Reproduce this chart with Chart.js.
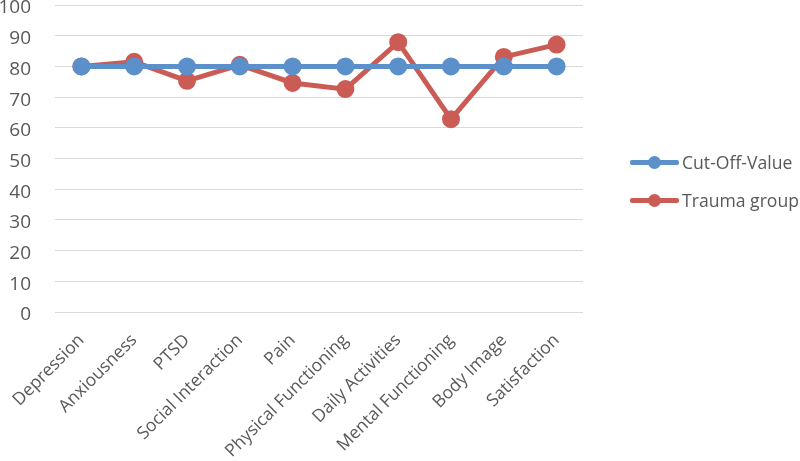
<!DOCTYPE html>
<html>
<head>
<meta charset="utf-8">
<script src="https://cdn.jsdelivr.net/npm/chart.js@4"></script>
<style>
  html, body { margin: 0; padding: 0; background: #fff; }
  #wrap { position: relative; width: 800px; height: 461px; overflow: hidden; }
  #legend { position: absolute; left: 630px; top: 143px; font-family: "Open Sans", sans-serif; font-size: 17.6px; color: #595959; white-space: nowrap; }
  .item { display: flex; align-items: center; height: 38px; }
  .sw { position: relative; width: 49px; height: 5px; margin-right: 3px; border-radius: 2px; }
  .sw i { position: absolute; left: 18px; top: -4px; width: 13px; height: 13px; border-radius: 50%; }
</style>
</head>
<body>
<div id="wrap">
  <canvas id="c" width="800" height="461"></canvas>
  <div id="legend"></div>
</div>
<script>
/* 資料 */
const categories = ['Depression', 'Anxiousness', 'PTSD', 'Social Interaction', 'Pain',
  'Physical Functioning', 'Daily Activities', 'Mental Functioning', 'Body Image', 'Satisfaction'];
const cutOff = [80, 80, 80, 80, 80, 80, 80, 80, 80, 80];
const trauma = [80, 81.5, 75.3, 80.5, 74.6, 72.6, 87.9, 62.8, 83.1, 87.1];
const yTicks = [0, 10, 20, 30, 40, 50, 60, 70, 80, 90, 100];

const BLUE = '#5b90ca', RED = '#cb5c55';
const series = [
  { label: 'Cut-Off-Value', color: BLUE, data: cutOff },
  { label: 'Trauma group', color: RED, data: trauma },
];

Chart.defaults.font.family = '"Open Sans", sans-serif';
Chart.defaults.color = '#595959';

new Chart(document.getElementById('c'), {
  type: 'line',
  data: {
    labels: categories,
    datasets: series.map(s => ({
      label: s.label, data: s.data,
      borderColor: s.color, backgroundColor: s.color,
      borderWidth: 5, pointRadius: 6.5, pointHoverRadius: 6.5, tension: 0,
    }))
  },
  options: {
    responsive: false,
    animation: false,
    layout: { autoPadding: false, padding: { top: 5, right: 217, left: 0, bottom: 0 } },
    plugins: { legend: { display: false }, tooltip: { enabled: false } },
    scales: {
      x: {
        offset: true,
        grid: { display: false },
        border: { display: false },
        ticks: { minRotation: 45, maxRotation: 45, font: { size: 17.5 }, padding: 10 },
        afterFit: a => { a.height = 149; a.paddingLeft = 0; a.paddingRight = 0; }
      },
      y: {
        min: 0, max: 100,
        afterBuildTicks: a => { a.ticks = yTicks.map(v => ({ value: v })); },
        grid: { color: '#d9d9d9', lineWidth: 1, drawTicks: false },
        border: { display: false },
        ticks: { font: { size: 19 }, padding: 24, labelOffset: 3 },
        afterFit: a => { a.width = 55; a.paddingTop = 0; a.paddingBottom = 0; }
      }
    }
  }
});

document.getElementById('legend').innerHTML = series.map(s =>
  `<div class="item"><span class="sw" style="background:${s.color}"><i style="background:${s.color}"></i></span>${s.label}</div>`
).join('');
</script>
</body>
</html>
